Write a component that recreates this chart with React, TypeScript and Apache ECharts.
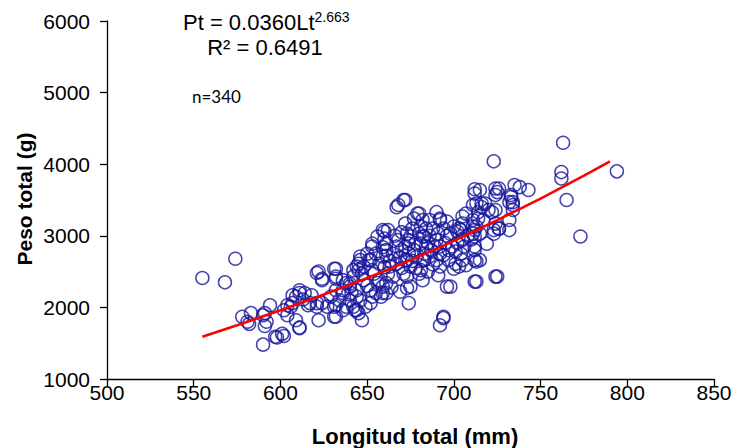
import React, { useEffect, useRef } from "react";
import * as echarts from "echarts";

// Observations [length (mm), weight (g)], grouped by length range
const obsUnder620: [number, number][] = [
  [555, 2410], [568, 2350], [574, 2680], [578, 1870], [582, 1770], [583, 1920], [591, 1920], [592, 1800],
  [591, 1740], [594, 2030], [590, 1480], [598, 1580], [601, 1630], [602, 1960], [604, 1890], [604, 2030],
  [611, 1720], [607, 2170], [611, 2200], [613, 2110], [616, 2030], [618, 2170], [609, 2150], [607, 2060],
  [606, 2010], [617, 2060], [609, 1820], [611, 1710], [611, 2240], [614, 2200], [581, 1800], [590, 1890],
  [597, 1590], [602, 1600],
];
const obs620to660: [number, number][] = [
  [621, 2480], [624, 2380], [622, 1820], [621, 2060], [627, 2010], [632, 2540], [632, 2400], [631, 1870],
  [632, 2030], [636, 2200], [638, 2340], [642, 2010], [642, 2520], [644, 2150], [622, 2500], [631, 2540],
  [632, 2430], [624, 2400], [621, 2010], [624, 2060], [629, 2150], [632, 2240], [634, 2100], [631, 2010],
  [636, 1960], [632, 1870], [640, 2290], [642, 2430], [644, 2570], [646, 2660], [650, 2750], [653, 2890],
  [656, 2990], [659, 3080], [652, 2660], [654, 2470], [656, 2340], [652, 2240], [646, 2100], [644, 1960],
  [647, 1820], [652, 2060], [658, 2150], [640, 2100], [636, 2240], [636, 2380], [640, 2330], [644, 2240],
  [645, 2520], [643, 1960], [638, 2010], [645, 1920], [649, 2010], [653, 2150], [659, 2290], [657, 2380],
  [653, 2520], [647, 2470], [648, 2570], [651, 2660], [655, 2750], [653, 2850], [657, 2610], [659, 2710],
  [646, 2710], [645, 2610], [650, 2300], [655, 2200], [648, 2380], [641, 2200],
];
const obs660to700: [number, number][] = [
  [668, 3430], [671, 3500], [677, 3240], [682, 3220], [679, 3310], [690, 3330], [692, 3240], [696, 3200],
  [698, 3030], [680, 2470], [682, 2380], [683, 2660], [684, 2850], [682, 2990], [680, 3030], [675, 2990],
  [674, 2890], [672, 2660], [671, 2470], [673, 2270], [674, 2060], [669, 2220], [694, 1870], [692, 2850],
  [694, 2730], [697, 2660], [696, 2290], [667, 3400], [672, 3500], [698, 2290], [694, 1850], [692, 1750],
  [660, 3060], [660, 2960], [659, 2840], [661, 2720], [660, 2560], [662, 2470], [664, 2280], [659, 2200],
  [661, 2890], [661, 2800], [662, 3080], [663, 2570], [665, 2430], [667, 2610], [661, 2340], [661, 2200],
  [672, 3170], [673, 3030], [674, 2940], [672, 2850], [674, 2750], [673, 2660], [675, 2570], [673, 2430],
  [675, 2290], [680, 3310], [681, 3130], [683, 2990], [681, 2890], [683, 2750], [682, 2660], [681, 2520],
  [692, 3220], [691, 3030], [690, 2940], [692, 2750], [690, 2660], [692, 2570], [691, 2450], [686, 2710],
  [687, 2800], [665, 2750], [667, 2850], [668, 2940], [666, 3000], [670, 2800], [677, 2800], [678, 2900],
  [676, 3100], [678, 2700], [685, 2900], [686, 3000], [688, 3100], [688, 2600], [685, 2500], [678, 2550],
  [695, 2900], [696, 3000], [697, 2800], [689, 2850], [694, 3100], [670, 2550], [676, 2650], [684, 3100],
  [669, 2700], [699, 2850], [686, 3220], [670, 3050], [663, 2650],
];
const obsOver700: [number, number][] = [
  [700, 3130], [702, 3060], [703, 3100], [705, 2960], [711, 3030], [712, 2850], [713, 2640], [719, 2890],
  [723, 3030], [726, 3100], [701, 2610], [700, 2540], [707, 2590], [724, 2430], [712, 2360], [707, 3310],
  [712, 3650], [724, 3660], [724, 3570], [733, 3570], [735, 3710], [734, 3470], [713, 3450], [714, 3330],
  [722, 3330], [724, 3170], [732, 3080], [734, 3360], [705, 3270], [705, 3170], [704, 3080], [705, 2940],
  [706, 2850], [704, 2750], [705, 2660], [703, 2570], [712, 3590], [711, 3430], [711, 3220], [711, 3130],
  [712, 2990], [712, 2800], [712, 2660], [763, 4300], [723, 4040], [762, 3890], [762, 3800], [794, 3900],
  [765, 3500], [773, 2990], [738, 3680], [743, 3640], [726, 3660], [725, 3610], [733, 3540], [734, 3430],
  [732, 3470], [724, 3360], [718, 3450], [716, 3400], [732, 3220], [726, 3100], [723, 3080], [717, 3220],
  [715, 3030], [715, 2660], [725, 2430], [715, 3640], [713, 2360], [713, 3130], [710, 2950], [712, 3080],
  [714, 3240], [720, 3360], [716, 3450], [701, 2780], [702, 2900], [708, 3000],
];

// Fitted curve
const fitLength = [555, 575, 600, 625, 650, 675, 700, 725, 750, 775, 790];
const fitWeight = [1590, 1750, 1960, 2180, 2410, 2660, 2930, 3220, 3520, 3840, 4040];

const xRange = [500, 850, 50];
const yRange = [1000, 6000, 1000];

const equationText = "Pt = 0.0360Lt";
const equationExp = "2.663";
const r2Text = "R² = 0.6491";
const nText = "n=340";
const xTitle = "Longitud total (mm)";
const yTitle = "Peso total (g)";

export default function App() {
  const ref = useRef<HTMLDivElement>(null);
  useEffect(() => {
    const chart = echarts.init(ref.current!, null, { renderer: "svg" });
    const observations = [...obsUnder620, ...obs620to660, ...obs660to700, ...obsOver700];
    const fit = fitLength.map((l, i) => [l, fitWeight[i]]);
    const font = "'Liberation Sans', Arial, sans-serif";
    chart.setOption({
      animation: false,
      backgroundColor: "#fff",
      grid: { left: 107, right: 29, top: 21, bottom: 69, containLabel: false },
      xAxis: {
        type: "value",
        min: xRange[0],
        max: xRange[1],
        interval: xRange[2],
        axisLine: { show: true, onZero: false, lineStyle: { color: "#000", width: 1.3 } },
        axisTick: { show: true, length: 7, lineStyle: { color: "#000", width: 1.3 } },
        splitLine: { show: false },
        axisLabel: {
          color: "#000",
          fontSize: 21,
          fontFamily: font,
          margin: 3,
          formatter: (v: number) => String(v),
        },
      },
      yAxis: {
        type: "value",
        min: yRange[0],
        max: yRange[1],
        interval: yRange[2],
        axisLine: { show: true, onZero: false, lineStyle: { color: "#000", width: 1.3 } },
        axisTick: { show: true, length: 7, lineStyle: { color: "#000", width: 1.3 } },
        splitLine: { show: false },
        axisLabel: {
          color: "#000",
          fontSize: 21,
          fontFamily: font,
          margin: 17,
          formatter: (v: number) => String(v),
        },
      },
      series: [
        {
          type: "scatter",
          data: observations,
          symbol: "circle",
          symbolSize: 13,
          itemStyle: { color: "rgba(0,0,0,0)", borderColor: "#16169C", borderWidth: 1.5 },
          emphasis: { disabled: true },
        },
        {
          type: "line",
          data: fit,
          showSymbol: false,
          smooth: 0.2,
          lineStyle: { color: "#FF0000", width: 2.6 },
          z: 5,
        },
      ],
      graphic: [
        {
          type: "text",
          x: 183,
          y: 22,
          style: {
            text: `{a|${equationText}}{b|${equationExp}}`,
            textVerticalAlign: "middle",
            rich: {
              a: { fontSize: 22, fontFamily: font, fill: "#000" },
              b: { fontSize: 14, fontFamily: font, fill: "#000", padding: [0, 0, 11, 0] },
            },
          },
        },
        {
          type: "text",
          x: 265,
          y: 47,
          style: {
            text: r2Text,
            font: `22px ${font}`,
            fill: "#000",
            textAlign: "center",
            textVerticalAlign: "middle",
          },
        },
        {
          type: "text",
          x: 192,
          y: 96,
          style: {
            text: nText,
            font: "17px Lato, 'Open Sans', sans-serif",
            fill: "#000",
            textAlign: "left",
            textVerticalAlign: "middle",
          },
        },
        {
          type: "text",
          x: 415,
          y: 436,
          style: {
            text: xTitle,
            font: `bold 22px ${font}`,
            fill: "#000",
            textAlign: "center",
            textVerticalAlign: "middle",
          },
        },
        {
          type: "text",
          x: 24,
          y: 199,
          rotation: Math.PI / 2,
          style: {
            text: yTitle,
            font: `bold 21px ${font}`,
            fill: "#000",
            textAlign: "center",
            textVerticalAlign: "middle",
          },
        },
      ],
    });
    return () => chart.dispose();
  }, []);
  return (
    <div
      ref={ref}
      style={{ position: "fixed", left: 0, top: 0, width: 743, height: 448, background: "#fff" }}
    />
  );
}
